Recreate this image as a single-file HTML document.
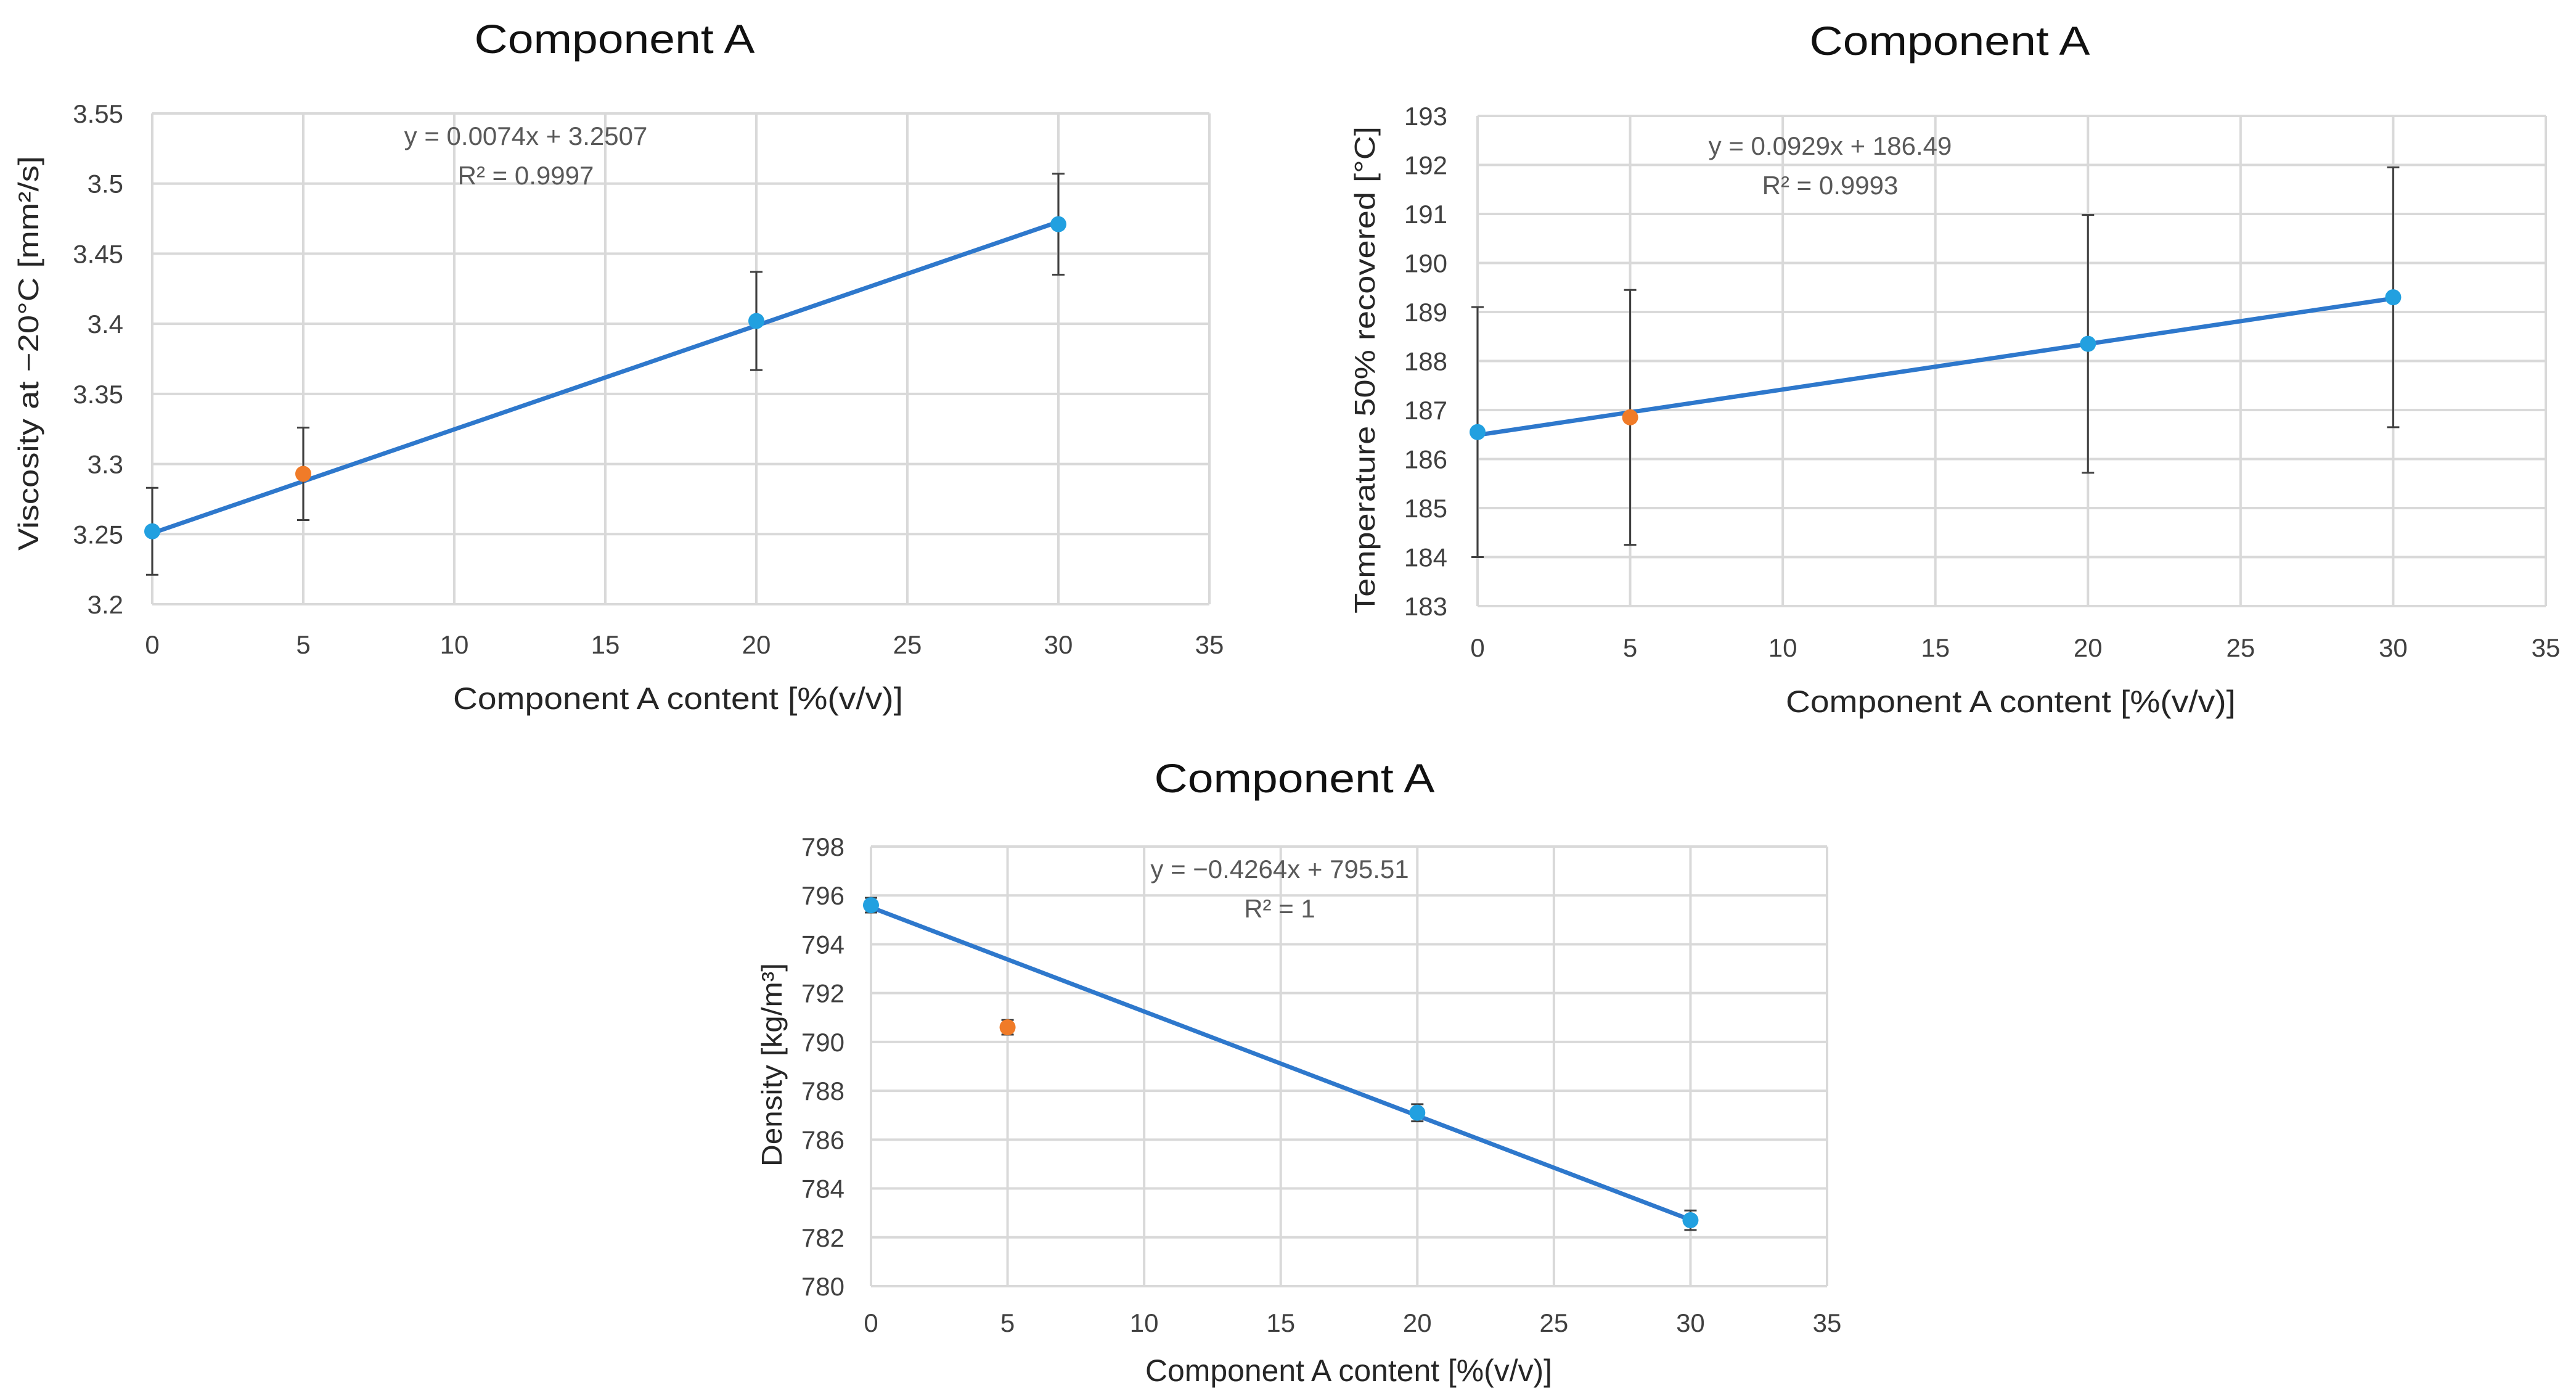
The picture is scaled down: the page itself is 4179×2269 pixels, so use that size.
<!DOCTYPE html>
<html><head><meta charset="utf-8"><style>
html,body{margin:0;padding:0;background:#fff}
svg{display:block;font-family:"Liberation Sans",Arial,sans-serif}
</style></head><body>
<svg id="root" width="4179" height="2269" viewBox="0 0 4179 2269" xmlns="http://www.w3.org/2000/svg"></svg>
<script>
const xCats = [0, 5, 20, 30];
const xTicks = [0, 5, 10, 15, 20, 25, 30, 35];
const visValues = [3.252, 3.293, 3.402, 3.471];
const visErrors = [0.031, 0.033, 0.035, 0.036];
const visTicks = [3.2, 3.25, 3.3, 3.35, 3.4, 3.45, 3.5, 3.55];
const visTickLabels = ["3.2","3.25","3.3","3.35","3.4","3.45","3.5","3.55"];
const visTrend = [0.0074, 3.2507];
const tempValues = [186.55, 186.85, 188.35, 189.3];
const tempErrors = [2.55, 2.6, 2.63, 2.65];
const tempTicks = [183,184,185,186,187,188,189,190,191,192,193];
const tempTrend = [0.0929, 186.49];
const denValues = [795.6, 790.6, 787.1, 782.7];
const denErrors = [0.3, 0.3, 0.35, 0.4];
const denTicks = [780,782,784,786,788,790,792,794,796,798];
const denTrend = [-0.4264, 795.51];
const outlierIndex = 1;

const NS = "http://www.w3.org/2000/svg";
const root = document.getElementById('root');
function mk(tag, attrs, parent, text){
  const e = document.createElementNS(NS, tag);
  for (const k in attrs) e.setAttribute(k, attrs[k]);
  if (text !== undefined) e.textContent = text;
  (parent || root).appendChild(e);
  return e;
}

function chart(cfg){
  const g = mk('g', {});
  
  
  const L=cfg.L,R=cfg.R,T=cfg.T,B=cfg.B;
  const ymin=cfg.yt[0], ymax=cfg.yt[cfg.yt.length-1];
  const sx = v => L + (v - 0) / 35 * (R - L);
  const sy = v => B - (v - ymin) / (ymax - ymin) * (B - T);
  cfg.yt.forEach((t,i)=>{
    const ln = mk('line',{x1:L,x2:R,y1:sy(t),y2:sy(t),stroke:'#d9d9d9','stroke-width':4},g);
    
    
    const tx = mk('text',{x:cfg.ylx,y:sy(t)+15,'text-anchor':'end','font-size':42,fill:'#404040'},g,cfg.ytl?cfg.ytl[i]:String(t));
    
    
  });
  xTicks.forEach(t=>{
    const ln = mk('line',{x1:sx(t),x2:sx(t),y1:T,y2:B,stroke:'#d9d9d9','stroke-width':4},g);
    
    
    const tx = mk('text',{x:sx(t),y:cfg.xly,'text-anchor':'middle','font-size':42,fill:'#404040'},g,String(t));
    
    
  });
  const tl = mk('line',{x1:sx(0),y1:sy(cfg.trend[1]),x2:sx(30),y2:sy(cfg.trend[0]*30+cfg.trend[1]),stroke:'#2e78cc','stroke-width':7},g);
  
  
  xCats.forEach((x,i)=>{
    const v=cfg.vals[i], e=cfg.errs[i], X=sx(x);
    const eb = mk('path',{d:`M${X},${sy(v+e)}V${sy(v-e)}M${X-10},${sy(v+e)}H${X+10}M${X-10},${sy(v-e)}H${X+10}`,stroke:'#404040','stroke-width':3,fill:'none'},g);
    
    
    const c = mk('circle',{cx:X,cy:sy(v),r:13,fill:i===outlierIndex?'#f07b28':'#22a0e0'},g);
    
    
  });
  const ti = mk('text',{x:cfg.tx,y:cfg.ty,'text-anchor':'middle','font-size':66,fill:'#111',textLength:455,lengthAdjust:'spacingAndGlyphs'},g,'Component A');
  
  
  const xt = mk('text',{x:cfg.xtx,y:cfg.xty,'text-anchor':'middle','font-size':50,fill:'#262626',textLength:cfg.xtw,lengthAdjust:'spacingAndGlyphs'},g,'Component A content [%(v/v)]');
  
  
  const yt = mk('text',{x:0,y:0,'text-anchor':'middle','font-size':46,fill:'#262626',transform:`translate(${cfg.ytx},${cfg.yty}) rotate(-90)`,textLength:cfg.ytw,lengthAdjust:'spacingAndGlyphs'},g,cfg.ytitle);
  
  
  const eq = mk('text',{x:cfg.ex,y:cfg.ey,'text-anchor':'middle','font-size':42,fill:'#595959'},g,cfg.eq);
  
  
  const r2 = mk('text',{x:cfg.ex,y:cfg.ey+64,'text-anchor':'middle','font-size':42,fill:'#595959'},g,cfg.r2);
  
  
}

chart({name:'viscosity-chart',L:247,R:1962,T:184,B:980,yt:visTicks,ytl:visTickLabels,vals:visValues,errs:visErrors,trend:visTrend,
  ylx:200,xly:1060,tx:997,ty:86,xtx:1100,xty:1150,xtw:730,ytx:62,yty:573,ytw:640,ytitle:'Viscosity at −20°C [mm²/s]',
  ex:853,ey:235,eq:'y = 0.0074x + 3.2507',r2:'R² = 0.9997'});
chart({name:'temperature-chart',L:2397,R:4130,T:188,B:983,yt:tempTicks,vals:tempValues,errs:tempErrors,trend:tempTrend,
  ylx:2348,xly:1065,tx:3163,ty:89,xtx:3262,xty:1155,xtw:730,ytx:2230,yty:600,ytw:790,ytitle:'Temperature 50% recovered [°C]',
  ex:2969,ey:251,eq:'y = 0.0929x + 186.49',r2:'R² = 0.9993'});
chart({name:'density-chart',L:1413,R:2964,T:1373,B:2086,yt:denTicks,vals:denValues,errs:denErrors,trend:denTrend,
  ylx:1370,xly:2160,tx:2100,ty:1285,xtx:2188,xty:2240,xtw:660,ytx:1268,yty:1727,ytw:330,ytitle:'Density [kg/m³]',
  ex:2076,ey:1424,eq:'y = −0.4264x + 795.51',r2:'R² = 1'});
</script>
</body></html>
